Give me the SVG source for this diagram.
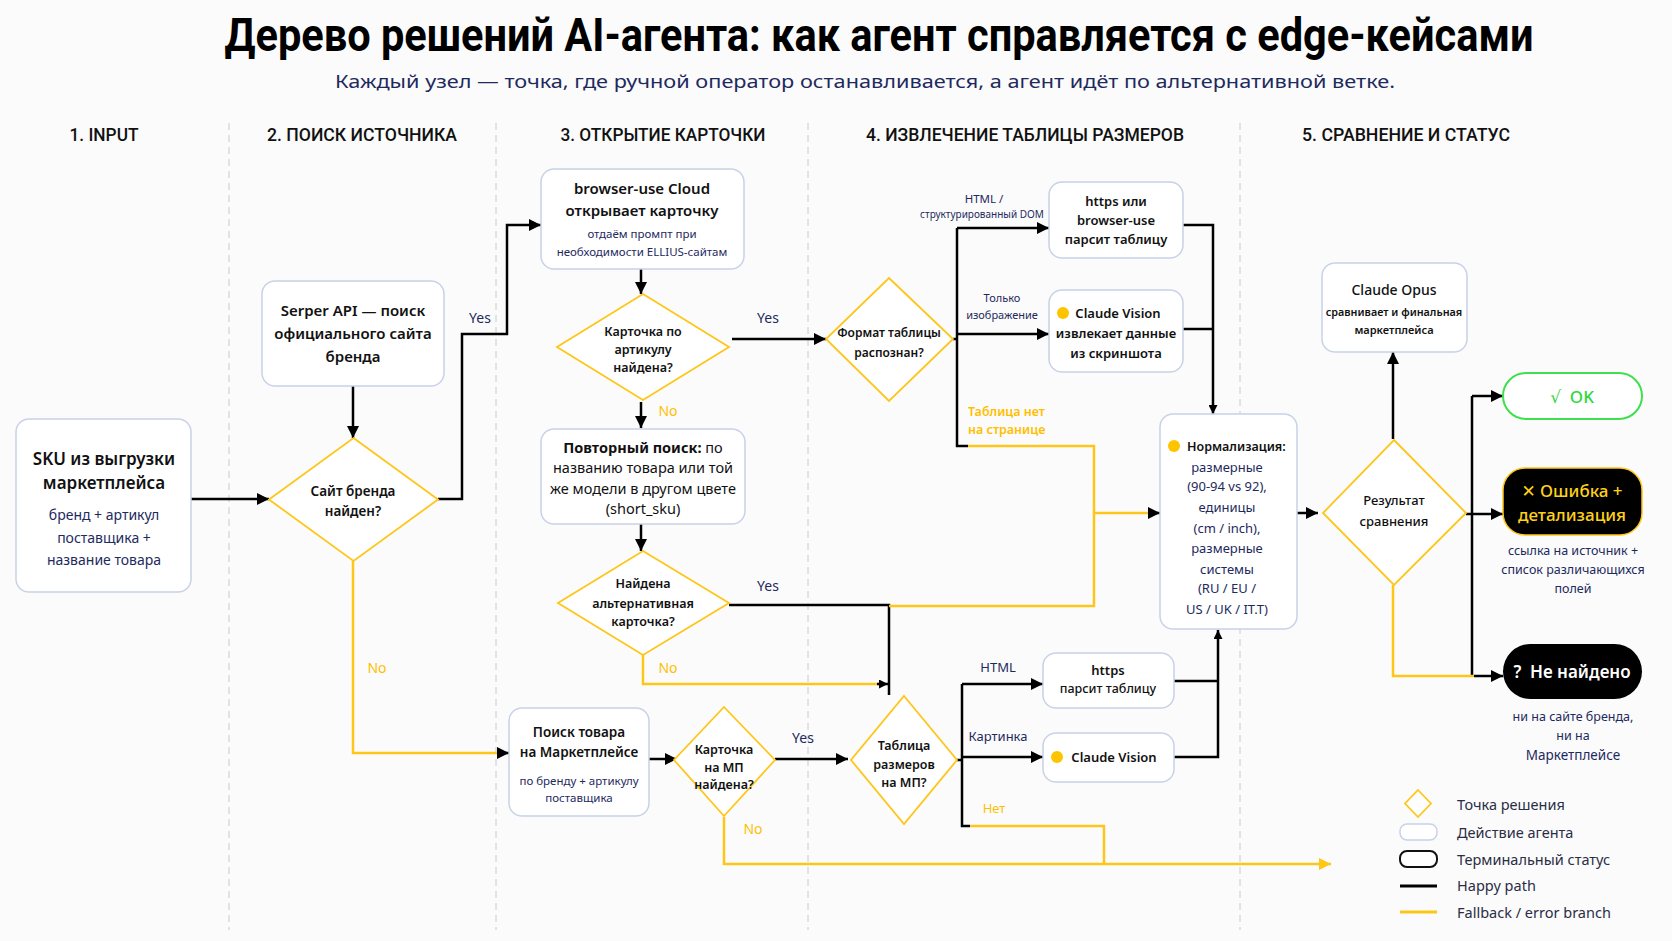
<svg xmlns="http://www.w3.org/2000/svg" width="1672" height="941" viewBox="0 0 1672 941">
<defs>
<style>
text{font-family:"Noto Sans","DejaVu Sans",sans-serif;dominant-baseline:central;text-anchor:middle}
.hd{font-family:Roboto,"Liberation Sans",sans-serif;font-weight:500;font-size:19px;fill:#111}
.box{fill:#ffffff;stroke:#c8d2e8;stroke-width:1.5}
.dia{fill:#ffffff;stroke:#ffc61a;stroke-width:1.8}
.sep{stroke:#d2d2d2;stroke-width:1.2;stroke-dasharray:7 5;fill:none}
.k{fill:none;stroke:#000;stroke-width:2.5}
.y{fill:none;stroke:#ffc61a;stroke-width:2.5}
.t{font-weight:600;fill:#111}
.s{fill:#1e2a5e}
.lb{fill:#1e2a5e;font-size:14px}
.ly{fill:#ffbf00;font-size:14px}
.dot{fill:#ffc400}
.lg{fill:#2a2d45;font-size:14.5px;text-anchor:start}
</style>
<marker id="ah" viewBox="0 0 10 10" refX="10" refY="5" markerWidth="12" markerHeight="12" markerUnits="userSpaceOnUse" orient="auto"><path d="M0,0 L10,5 L0,10 z" fill="#000"/></marker>
<marker id="ahs" viewBox="0 0 10 10" refX="10" refY="5" markerWidth="9" markerHeight="9" markerUnits="userSpaceOnUse" orient="auto"><path d="M0,0 L10,5 L0,10 z" fill="#000"/></marker>
<marker id="ahy" viewBox="0 0 10 10" refX="10" refY="5" markerWidth="12" markerHeight="12" markerUnits="userSpaceOnUse" orient="auto"><path d="M0,0 L10,5 L0,10 z" fill="#ffc61a"/></marker>
</defs>
<rect width="1672" height="941" fill="#fbfbfb"/>

<g id="title">
<text x="879" y="51" style="dominant-baseline:alphabetic;font-family:Roboto,'Liberation Sans',sans-serif;font-weight:700;font-size:46px;fill:#000" textLength="1309" lengthAdjust="spacingAndGlyphs">Дерево решений AI-агента: как агент справляется с edge-кейсами</text>
<text x="865" y="81" style="font-size:18px;fill:#1e2a5e" textLength="1060" lengthAdjust="spacingAndGlyphs">Каждый узел — точка, где ручной оператор останавливается, а агент идёт по альтернативной ветке.</text>
</g>

<g id="columns">
<text class="hd" x="104" y="134" textLength="69" lengthAdjust="spacingAndGlyphs">1. INPUT</text>
<text class="hd" x="362" y="134" textLength="190" lengthAdjust="spacingAndGlyphs">2. ПОИСК ИСТОЧНИКА</text>
<text class="hd" x="663" y="134" textLength="205" lengthAdjust="spacingAndGlyphs">3. ОТКРЫТИЕ КАРТОЧКИ</text>
<text class="hd" x="1025" y="134" textLength="318" lengthAdjust="spacingAndGlyphs">4. ИЗВЛЕЧЕНИЕ ТАБЛИЦЫ РАЗМЕРОВ</text>
<text class="hd" x="1406" y="134" textLength="208" lengthAdjust="spacingAndGlyphs">5. СРАВНЕНИЕ И СТАТУС</text>
<path class="sep" d="M229,123 V930 M496,123 V930 M808,123 V930 M1240,123 V930"/>
</g>

<g id="connectors">
<path class="k" d="M191,499 H269" marker-end="url(#ah)"/>
<path class="k" d="M353,386 V438" marker-end="url(#ah)"/>
<path class="k" d="M438,499 H462 V334 H507 V225 H541" marker-end="url(#ah)"/>
<path class="k" d="M641,269 V294" marker-end="url(#ah)"/>
<path class="k" d="M732,339 H826" marker-end="url(#ah)"/>
<path class="k" d="M641,402 V428" marker-end="url(#ah)"/>
<path class="k" d="M641,524 V551" marker-end="url(#ah)"/>
<path class="k" d="M729,605 H889 V695"/>
<path class="k" d="M953,339 H957 M957,228 V446 H968"/>
<path class="k" d="M957,228 H1049" marker-end="url(#ah)"/>
<path class="k" d="M957,334 H1049" marker-end="url(#ah)"/>
<path class="k" d="M1183,225 H1213 V414" marker-end="url(#ahs)"/>
<path class="k" d="M1183,329 H1213"/>
<path class="k" d="M649,759 H677" marker-end="url(#ah)"/>
<path class="k" d="M775,759 H848" marker-end="url(#ah)"/>
<path class="k" d="M957,760 H962 M962,684 V826 H970"/>
<path class="k" d="M962,684 H1043" marker-end="url(#ah)"/>
<path class="k" d="M962,757 H1043" marker-end="url(#ah)"/>
<path class="k" d="M1174,681 H1218"/>
<path class="k" d="M1174,757 H1218 V630" marker-end="url(#ahs)"/>
<path class="k" d="M1297,513 H1318" marker-end="url(#ah)"/>
<path class="k" d="M1393,439 V352" marker-end="url(#ah)"/>
<path class="k" d="M1466,514 H1472 M1472,396 V676"/>
<path class="k" d="M1472,396 H1503" marker-end="url(#ah)"/>
<path class="k" d="M1472,514 H1503" marker-end="url(#ah)"/>
<path class="y" d="M353,561 V753 H498"/>
<path class="k" d="M497,753 H509" marker-end="url(#ah)"/>
<path class="y" d="M643,655 V684 H880"/>
<path class="k" d="M877,684 H888" marker-end="url(#ahs)"/>
<path class="y" d="M889,606 H1094 V446 H968"/>
<path class="y" d="M1094,513 H1150"/>
<path class="k" d="M1148,513 H1160" marker-end="url(#ah)"/>
<path class="y" d="M724,817 V864 H1331" marker-end="url(#ahy)"/>
<path class="y" d="M970,826 H1104 V864"/>
<path class="y" d="M1393,585 V676 H1474"/>
<path class="k" d="M1474,676 H1503" marker-end="url(#ah)"/>
<text class="lb" x="480" y="317">Yes</text>
<text class="lb" x="768" y="317">Yes</text>
<text class="ly" x="668" y="410">No</text>
<text class="lb" x="768" y="585">Yes</text>
<text class="ly" x="668" y="667">No</text>
<text class="ly" x="377" y="667">No</text>
<text class="lb" x="803" y="737">Yes</text>
<text class="ly" x="753" y="828">No</text>
<text class="lb" x="984" y="198" style="font-size:11.5px">HTML /</text>
<text class="lb" x="982" y="214" style="font-size:10px">структурированный DOM</text>
<text class="lb" x="1002" y="297" style="font-size:11px">Только</text>
<text class="lb" x="1002" y="314" style="font-size:11px">изображение</text>
<text class="ly" x="968" y="411" style="font-size:12.5px;font-weight:600;text-anchor:start">Таблица нет</text>
<text class="ly" x="968" y="429" style="font-size:12.5px;font-weight:600;text-anchor:start">на странице</text>
<text class="lb" x="998" y="667" style="font-size:13px">HTML</text>
<text class="lb" x="998" y="736" style="font-size:13px">Картинка</text>
<text class="ly" x="994" y="808" style="font-size:13px">Нет</text>
</g>

<g id="n-sku">
<rect class="box" x="16" y="419" width="175" height="173" rx="13"/>
<text class="t" x="104" y="458" style="font-size:17px">SKU из выгрузки</text>
<text class="t" x="104" y="482" style="font-size:17px">маркетплейса</text>
<text class="s" x="104" y="514" style="font-size:14px">бренд + артикул</text>
<text class="s" x="104" y="537" style="font-size:14px">поставщика +</text>
<text class="s" x="104" y="559" style="font-size:14px">название товара</text>
</g>

<g id="n-serper">
<rect class="box" x="262" y="281" width="182" height="105" rx="13"/>
<text class="t" x="353" y="310" style="font-size:15px">Serper API — поиск</text>
<text class="t" x="353" y="333" style="font-size:15px">официального сайта</text>
<text class="t" x="353" y="356" style="font-size:15px">бренда</text>
</g>

<g id="d-brand">
<polygon class="dia" points="353.5,438 438,499.5 353.5,561 269,499.5"/>
<text class="t" x="353" y="491" style="font-size:13.5px">Сайт бренда</text>
<text class="t" x="353" y="511" style="font-size:13.5px">найден?</text>
</g>

<g id="n-browser">
<rect class="box" x="541" y="169" width="203" height="100" rx="13"/>
<text class="t" x="642" y="188" style="font-size:15px">browser-use Cloud</text>
<text class="t" x="642" y="210" style="font-size:15px">открывает карточку</text>
<text class="s" x="642" y="233" style="font-size:11.5px">отдаём промпт при</text>
<text class="s" x="642" y="251" style="font-size:11.5px">необходимости ELLIUS-сайтам</text>
</g>

<g id="d-card">
<polygon class="dia" points="643,294 729,347 643,400 557,347"/>
<text class="t" x="643" y="331" style="font-size:12.5px">Карточка по</text>
<text class="t" x="643" y="349" style="font-size:12.5px">артикулу</text>
<text class="t" x="643" y="367" style="font-size:12.5px">найдена?</text>
</g>

<g id="n-retry">
<rect class="box" x="541" y="429" width="204" height="95" rx="13"/>
<text x="643" y="447" style="font-size:14.5px;fill:#111"><tspan font-weight="700">Повторный поиск:</tspan> по</text>
<text x="643" y="467" style="font-size:14.5px;fill:#111">названию товара или той</text>
<text x="643" y="488" style="font-size:14.5px;fill:#111">же модели в другом цвете</text>
<text x="643" y="508" style="font-size:14.5px;fill:#111">(short_sku)</text>
</g>

<g id="d-alt">
<polygon class="dia" points="643,551 729,603 643,655 558,603"/>
<text class="t" x="643" y="583" style="font-size:12.5px">Найдена</text>
<text class="t" x="643" y="603" style="font-size:12.5px">альтернативная</text>
<text class="t" x="643" y="621" style="font-size:12.5px">карточка?</text>
</g>

<g id="d-format">
<polygon class="dia" points="889,278 953,339 889,401 826,339"/>
<text class="t" x="889" y="332" style="font-size:12px">Формат таблицы</text>
<text class="t" x="889" y="352" style="font-size:12px">распознан?</text>
</g>

<g id="n-https1">
<rect class="box" x="1049" y="182" width="134" height="76" rx="13"/>
<text class="t" x="1116" y="201" style="font-size:13px">https или</text>
<text class="t" x="1116" y="220" style="font-size:13px">browser-use</text>
<text class="t" x="1116" y="239" style="font-size:13px">парсит таблицу</text>
</g>

<g id="n-vision1">
<rect class="box" x="1049" y="290" width="134" height="82" rx="13"/>
<circle class="dot" cx="1063" cy="313" r="6"/>
<text class="t" x="1118" y="313" style="font-size:13px">Claude Vision</text>
<text class="t" x="1116" y="333" style="font-size:13px">извлекает данные</text>
<text class="t" x="1116" y="353" style="font-size:13px">из скриншота</text>
</g>

<g id="n-norm">
<rect class="box" x="1160" y="414" width="137" height="215" rx="13"/>
<circle class="dot" cx="1174" cy="446" r="6"/>
<text class="t" x="1187" y="446" style="font-size:12.5px;text-anchor:start">Нормализация:</text>
<text class="s" x="1227" y="467" style="font-size:13px">размерные</text>
<text class="s" x="1227" y="486" style="font-size:13px">(90-94 vs 92),</text>
<text class="s" x="1227" y="507" style="font-size:13px">единицы</text>
<text class="s" x="1227" y="528" style="font-size:13px">(cm / inch),</text>
<text class="s" x="1227" y="548" style="font-size:13px">размерные</text>
<text class="s" x="1227" y="569" style="font-size:13px">системы</text>
<text class="s" x="1227" y="588" style="font-size:13px">(RU / EU /</text>
<text class="s" x="1227" y="609" style="font-size:13px">US / UK / IT.T)</text>
</g>

<g id="n-mpsearch">
<rect class="box" x="509" y="708" width="140" height="108" rx="13"/>
<text class="t" x="579" y="732" style="font-size:13.5px">Поиск товара</text>
<text class="t" x="579" y="752" style="font-size:13.5px">на Маркетплейсе</text>
<text class="s" x="579" y="780" style="font-size:11.5px">по бренду + артикулу</text>
<text class="s" x="579" y="797" style="font-size:11.5px">поставщика</text>
</g>

<g id="d-mpcard">
<polygon class="dia" points="724,707 775,760 724,816 674,760"/>
<text class="t" x="724" y="749" style="font-size:12.5px">Карточка</text>
<text class="t" x="724" y="767" style="font-size:12.5px">на МП</text>
<text class="t" x="724" y="784" style="font-size:12.5px">найдена?</text>
</g>

<g id="d-mptable">
<polygon class="dia" points="904,696 957,760 904,824 851,760"/>
<text class="t" x="904" y="745" style="font-size:12.5px">Таблица</text>
<text class="t" x="904" y="764" style="font-size:12.5px">размеров</text>
<text class="t" x="904" y="782" style="font-size:12.5px">на МП?</text>
</g>

<g id="n-https2">
<rect class="box" x="1043" y="653" width="131" height="55" rx="13"/>
<text class="t" x="1108" y="670" style="font-size:13px">https</text>
<text class="t" x="1108" y="688" style="font-size:12.5px;font-weight:500">парсит таблицу</text>
</g>

<g id="n-vision2">
<rect class="box" x="1043" y="733" width="131" height="49" rx="13"/>
<circle class="dot" cx="1057" cy="757" r="6"/>
<text class="t" x="1114" y="757" style="font-size:13px">Claude Vision</text>
</g>

<g id="n-opus">
<rect class="box" x="1322" y="263" width="145" height="89" rx="13"/>
<text x="1394" y="289" style="font-size:14px;font-weight:500;fill:#111">Claude Opus</text>
<text class="t" x="1394" y="311" style="font-size:10.8px">сравнивает и финальная</text>
<text class="t" x="1394" y="329" style="font-size:11px">маркетплейса</text>
</g>

<g id="d-result">
<polygon class="dia" points="1394,440 1466,513 1394,585 1323,513"/>
<text class="t" x="1394" y="500" style="font-size:13px;font-weight:500">Результат</text>
<text class="t" x="1394" y="521" style="font-size:13px;font-weight:500">сравнения</text>
</g>

<g id="n-ok">
<rect x="1503" y="373" width="139" height="46" rx="23" fill="#ffffff" stroke="#3ee04c" stroke-width="2"/>
<text x="1572" y="396" style="font-size:17px;fill:#2fd83c;font-weight:500">√&#160;&#160;OK</text>
</g>

<g id="n-error">
<rect x="1503" y="468" width="139" height="67" rx="22" fill="#000" stroke="#ffc61a" stroke-width="1.5"/>
<text x="1572" y="490" style="font-size:17px;fill:#ffd21a;font-weight:500">✕ Ошибка +</text>
<text x="1572" y="514" style="font-size:17px;fill:#ffd21a;font-weight:500">детализация</text>
<text class="s" x="1573" y="550" style="font-size:12.5px">ссылка на источник +</text>
<text class="s" x="1573" y="569" style="font-size:12.5px">список различающихся</text>
<text class="s" x="1573" y="588" style="font-size:12.5px">полей</text>
</g>

<g id="n-notfound">
<rect x="1503" y="644" width="139" height="55" rx="27.5" fill="#000"/>
<text x="1572" y="671" style="font-size:17px;fill:#fff;font-weight:600">?&#160;&#160;Не найдено</text>
<text class="s" x="1573" y="716" style="font-size:12.5px">ни на сайте бренда,</text>
<text class="s" x="1573" y="735" style="font-size:12.5px">ни на</text>
<text class="s" x="1573" y="755" style="font-size:13.5px">Маркетплейсе</text>
</g>

<g id="legend">
<polygon points="1418,790 1431,803.5 1418,817 1405,803.5" fill="#fff" stroke="#ffc61a" stroke-width="1.8"/>
<rect x="1400" y="824" width="37" height="16" rx="7" fill="#fff" stroke="#c8d2e8" stroke-width="1.5"/>
<rect x="1400" y="851" width="37" height="16" rx="7" fill="#fff" stroke="#111" stroke-width="2"/>
<path d="M1400,886 H1437" stroke="#000" stroke-width="3"/>
<path d="M1400,912 H1437" stroke="#ffc61a" stroke-width="3"/>
<text class="lg" x="1457" y="804">Точка решения</text>
<text class="lg" x="1457" y="832">Действие агента</text>
<text class="lg" x="1457" y="859">Терминальный статус</text>
<text class="lg" x="1457" y="885">Happy path</text>
<text class="lg" x="1457" y="912">Fallback / error branch</text>
</g>
</svg>
